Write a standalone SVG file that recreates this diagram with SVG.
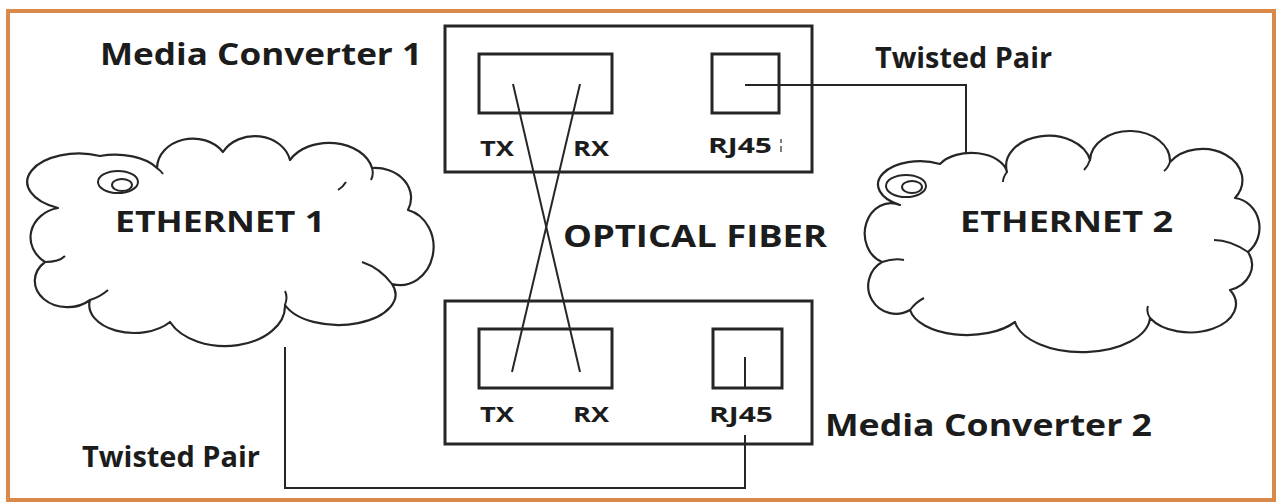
<svg xmlns="http://www.w3.org/2000/svg" width="1282" height="504" viewBox="0 0 1282 504">
<style>
.t{font-family:"Open Sans","Liberation Sans",sans-serif;font-weight:700;fill:#1c1c1c}
.big{font-size:30px}
.mid{font-size:28px}
.sm{font-size:22px}
.box{fill:none;stroke:#262626;stroke-width:3}
.ln{fill:none;stroke:#262626;stroke-width:2}
.cl{fill:#fff;stroke:#262626;stroke-width:2.2;stroke-linejoin:round}
</style>
<rect x="0" y="0" width="1282" height="504" fill="#ffffff"/>
<rect x="8" y="11" width="1266" height="489" fill="none" stroke="#d98a4b" stroke-width="4"/>

<g id="connectors">
  <line class="ln" x1="513" y1="84" x2="580" y2="372"/>
  <line class="ln" x1="580" y1="84" x2="512" y2="372"/>
  <polyline class="ln" points="745,85 966,85 966,168"/>
  <line class="ln" x1="745" y1="357" x2="745" y2="388"/>
  <polyline class="ln" points="745,435 745,488 285,488 285,347"/>
</g>

<g id="ethernet1">
  <path class="cl" d="M58,208 A40,22 0 0 1 100,156 A48,26 0 0 1 157,168 A36,30 0 0 1 223,152 A36,30 0 0 1 290,160 A44,32 0 0 1 372,168 A36,30 0 0 1 408,210 A30,34 0 0 1 392,284 A56,30 0 0 1 285,305 A60,40 0 0 1 170,322 A45,28 0 0 1 90,300 A30,24 0 0 1 45,262 A34,30 0 0 1 58,208 Z"/>
  <path class="ln" d="M157,168 q4,3 6,6 M338,190 q5,-3 8,-8 M372,168 q2,6 -1,12 M392,284 q-12,-16 -30,-22 M285,305 q3,-8 0,-14 M90,300 q10,-3 18,-10 M45,262 q14,0 20,-6"/>
  <ellipse class="ln" cx="118" cy="182" rx="20" ry="11"/>
  <ellipse class="ln" cx="122" cy="185" rx="10" ry="6"/>
  <text class="t mid" x="115" y="232" textLength="210" lengthAdjust="spacingAndGlyphs">ETHERNET 1</text>
</g>

<g id="ethernet2">
  <path class="cl" d="M900,205 A36,20 0 0 1 940,164 A36,22 0 0 1 1007,172 A42,30 0 0 1 1090,160 A40,30 0 0 1 1170,162 A36,28 0 0 1 1235,198 A28,30 0 0 1 1248,252 A30,26 0 0 1 1230,290 A42,26 0 0 1 1150,318 A68,36 0 0 1 1015,322 A58,30 0 0 1 910,310 A26,26 0 0 1 882,262 A26,30 0 0 1 900,205 Z"/>
  <path class="ln" d="M1007,172 q-4,5 -4,10 M1090,160 q-2,6 -6,10 M1170,162 q-2,6 -6,9 M1248,252 q-18,-12 -34,-12 M1150,318 q-4,-6 -2,-12 M910,310 q6,-8 14,-12 M882,262 q12,-4 22,-2"/>
  <ellipse class="ln" cx="906" cy="186" rx="20" ry="11"/>
  <ellipse class="ln" cx="912" cy="187" rx="10" ry="6"/>
  <text class="t mid" x="960" y="232" textLength="213" lengthAdjust="spacingAndGlyphs">ETHERNET 2</text>
</g>

<g id="converter1">
  <rect class="box" x="445" y="26" width="367" height="146"/>
  <rect class="box" x="479" y="54" width="133" height="59"/>
  <rect class="box" x="712" y="54" width="67" height="59"/>
  <text class="t sm" x="480" y="156" textLength="34" lengthAdjust="spacingAndGlyphs">TX</text>
  <text class="t sm" x="573" y="156" textLength="36" lengthAdjust="spacingAndGlyphs">RX</text>
  <text class="t sm" x="708" y="153" textLength="64" lengthAdjust="spacingAndGlyphs">RJ45</text>
  <line x1="781" y1="139" x2="781" y2="143" stroke="#555" stroke-width="1.5"/>
  <line x1="781" y1="146" x2="781" y2="152" stroke="#555" stroke-width="1.5"/>
</g>

<g id="converter2">
  <rect class="box" x="445" y="301" width="367" height="143"/>
  <rect class="box" x="479" y="329" width="133" height="59"/>
  <rect class="box" x="713" y="329" width="69" height="59"/>
  <text class="t sm" x="480" y="422" textLength="34" lengthAdjust="spacingAndGlyphs">TX</text>
  <text class="t sm" x="573" y="422" textLength="36" lengthAdjust="spacingAndGlyphs">RX</text>
  <text class="t sm" x="709" y="422" textLength="64" lengthAdjust="spacingAndGlyphs">RJ45</text>
</g>

<g id="labels">
  <text class="t big" x="100" y="65" textLength="322" lengthAdjust="spacingAndGlyphs">Media Converter 1</text>
  <text class="t mid" x="875" y="68" textLength="177" lengthAdjust="spacingAndGlyphs">Twisted Pair</text>
  <text class="t big" x="563" y="247" textLength="264" lengthAdjust="spacingAndGlyphs">OPTICAL FIBER</text>
  <text class="t big" x="825" y="436" textLength="327" lengthAdjust="spacingAndGlyphs">Media Converter 2</text>
  <text class="t mid" x="82" y="467" textLength="178" lengthAdjust="spacingAndGlyphs">Twisted Pair</text>
</g>
</svg>
